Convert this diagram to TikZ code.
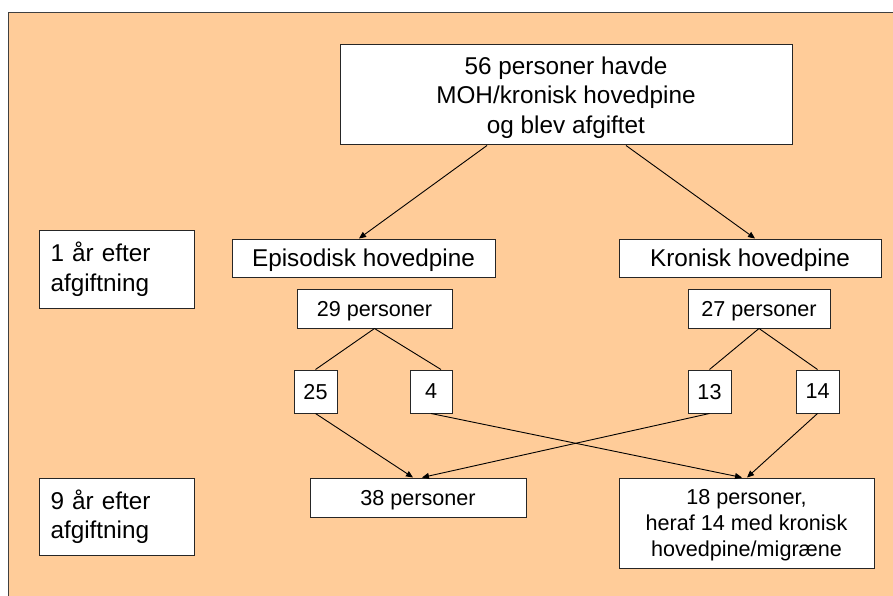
\documentclass[tikz,border=0pt]{standalone}
\usepackage{fontspec}
\setmainfont{Liberation Sans}
\usetikzlibrary{arrows.meta}
\definecolor{bgorange}{HTML}{FFCC99}
\definecolor{frame}{HTML}{404040}
\begin{document}
\begin{tikzpicture}[x=1pt,y=-1pt,
  box/.style={draw=black!85, line width=1pt, fill=white, inner sep=0pt, align=center},
  flat/.style={text depth=0pt},
  big/.style={font=\fontsize{24.3}{29.5}\selectfont},
  small/.style={font=\fontsize{21.6}{26}\selectfont},
  link/.style={draw=black, line width=0.9pt},
  arr/.style={link, -{Triangle[length=7pt,width=6pt]}}
]
\useasboundingbox (0,0) rectangle (893,596);
\fill[white] (0,0) rectangle (893,596);
\fill[bgorange] (8,13) rectangle (893,596);
\draw[frame, line width=1pt] (8,596) -- (8,13) -- (893,13);

% top box
\node[box, big, flat, minimum width=452pt, minimum height=100pt] (top) at (566,95)
  {56 personer havde\\MOH/kronisk hovedpine\\og blev afgiftet};

% level labels
\node[box, big, minimum width=154.5pt, minimum height=78pt, text width=133pt, align=left] (yr1) at (117,269)
  {1 år efter\\afgiftning};
\node[box, big, minimum width=154.5pt, minimum height=77pt, text width=133pt, align=left] (yr9) at (117,516.5)
  {9 år efter\\afgiftning};

% second level
\node[box, big, flat, minimum width=263pt, minimum height=38pt] (epi) at (363.5,258) {Episodisk hovedpine};
\node[box, big, flat, minimum width=262pt, minimum height=38pt] (kro) at (750,258) {Kronisk hovedpine};

\node[box, small, flat, minimum width=155pt, minimum height=39pt] (p29) at (374.5,308.5) {29 personer};
\node[box, small, flat, minimum width=142pt, minimum height=39pt] (p27) at (759,308.5) {27 personer};

\node[box, small, flat, minimum width=43pt, minimum height=43pt] (n25) at (315.5,391.5) {25};
\node[box, small, flat, minimum width=42pt, minimum height=43pt] (n4) at (431,391.5) {4};
\node[box, small, flat, minimum width=43pt, minimum height=43pt] (n13) at (709.5,391.5) {13};
\node[box, small, flat, minimum width=43pt, minimum height=43pt] (n14) at (817.5,391.5) {14};

\node[box, small, flat, minimum width=216pt, minimum height=39pt] (p38) at (418,497.5) {38 personer};
\node[box, small, flat, minimum width=255pt, minimum height=90pt] (p18) at (746.5,523)
  {18 personer,\\heraf 14 med kronisk\\hovedpine/migræne};

% connectors
\draw[arr] ([xshift=-79pt]top.south) -- ([xshift=-4.5pt]epi.north);
\draw[arr] ([xshift=60pt]top.south) -- ([xshift=5pt]kro.north);

\draw[link] (p29.south) -- (n25.north);
\draw[link] (p29.south) -- ([xshift=10pt]n4.north);
\draw[link] (p27.south) -- (n13.north);
\draw[link] (p27.south) -- (n14.north);

\draw[arr] (n25.south) -- ([xshift=-5pt]p38.north);
\draw[arr] (n13.south) -- ([xshift=4pt]p38.north);
\draw[arr] (n4.south) -- ([xshift=-4.5pt]p18.north);
\draw[arr] (n14.south) -- ([xshift=0.5pt]p18.north);
\end{tikzpicture}
\end{document}
